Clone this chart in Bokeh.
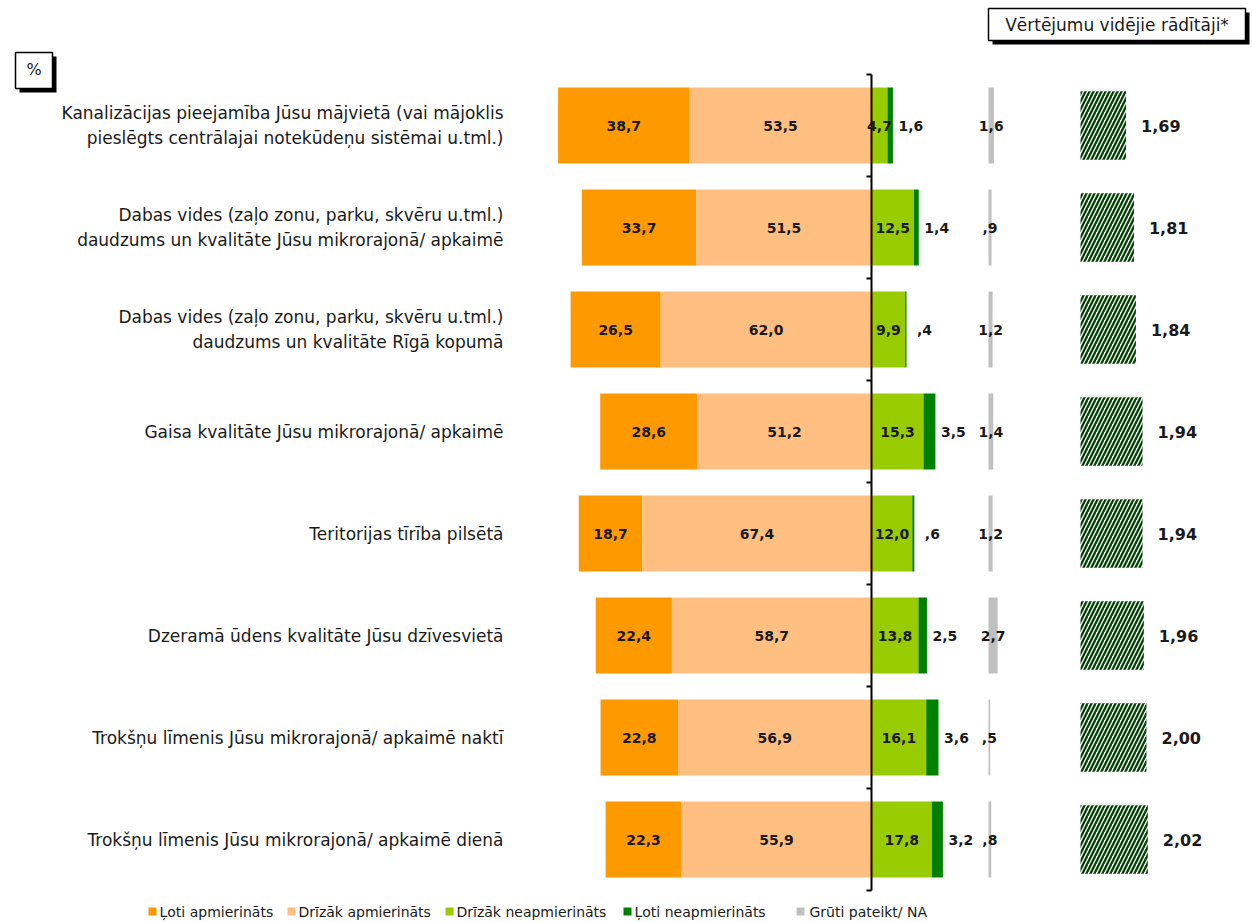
import numpy as np
from bokeh.plotting import figure
from bokeh.models import Range1d, ColumnDataSource
from bokeh.core.properties import value
from bokeh.embed import file_html
from bokeh.resources import INLINE

# ---------------- data ----------------
categories = [
    "Kanalizācijas pieejamība Jūsu mājvietā (vai mājoklis\npieslēgts centrālajai notekūdeņu sistēmai u.tml.)",
    "Dabas vides (zaļo zonu, parku, skvēru u.tml.)\ndaudzums un kvalitāte Jūsu mikrorajonā/ apkaimē",
    "Dabas vides (zaļo zonu, parku, skvēru u.tml.)\ndaudzums un kvalitāte Rīgā kopumā",
    "Gaisa kvalitāte Jūsu mikrorajonā/ apkaimē",
    "Teritorijas tīrība pilsētā",
    "Dzeramā ūdens kvalitāte Jūsu dzīvesvietā",
    "Trokšņu līmenis Jūsu mikrorajonā/ apkaimē naktī",
    "Trokšņu līmenis Jūsu mikrorajonā/ apkaimē dienā",
]
very_satisfied = [38.7, 33.7, 26.5, 28.6, 18.7, 22.4, 22.8, 22.3]
rather_satisfied = [53.5, 51.5, 62.0, 51.2, 67.4, 58.7, 56.9, 55.9]
rather_dissatisfied = [4.7, 12.5, 9.9, 15.3, 12.0, 13.8, 16.1, 17.8]
very_dissatisfied = [1.6, 1.4, 0.4, 3.5, 0.6, 2.5, 3.6, 3.2]
hard_to_say = [1.6, 0.9, 1.2, 1.4, 1.2, 2.7, 0.5, 0.8]
mean_scores = [1.69, 1.81, 1.84, 1.94, 1.94, 1.96, 2.00, 2.02]
legend_labels = ["Ļoti apmierināts", "Drīzāk apmierināts", "Drīzāk neapmierināts",
                 "Ļoti neapmierināts", "Grūti pateikt/ NA"]
header_text = "Vērtējumu vidējie rādītāji*"
unit_text = "%"

# ---------------- styles / layout ----------------
C_VS, C_RS, C_RD, C_VD, C_NA = "#FF9900", "#FFBF80", "#99CC00", "#008000", "#C0C0C0"
HATCH = "#004000"
TXT = "#1a1a1a"
FONT = value("DejaVu Sans")

W, H = 1252, 922
PX = 3.40            # pixels per percent
AXIS_X = 871         # canvas x of 0 %
ROW0, STEP = 125, 102
NA_X0 = 988
MEAN_X0, MEAN_PX = 1080, 66
BAR_H = 0.745
MEAN_H = 0.67


def fmt(v, d=1):
    s = f"{v:.{d}f}".replace(".", ",")
    if s.startswith("0,"):
        s = s[1:]
    return s


n = len(categories)
y = np.arange(n)
vs = np.array(very_satisfied)
rs = np.array(rather_satisfied)
rd = np.array(rather_dissatisfied)
vd = np.array(very_dissatisfied)
na = np.array(hard_to_say)
ms = np.array(mean_scores)

p = figure(width=W, height=H,
           x_range=Range1d(-AXIS_X / PX, (W - AXIS_X) / PX),
           y_range=Range1d((H - ROW0) / STEP, -ROW0 / STEP),
           output_backend="svg", toolbar_location=None,
           x_axis_location=None, y_axis_location=None,
           min_border=0, min_border_left=0, min_border_right=0,
           min_border_top=0, min_border_bottom=0)
p.grid.visible = False
p.outline_line_color = None
p.extra_x_ranges = {
    "na": Range1d(-NA_X0 / PX, (W - NA_X0) / PX),
    "mean": Range1d(1 - MEAN_X0 / MEAN_PX, 1 + (W - MEAN_X0) / MEAN_PX),
    "px": Range1d(0, W),
}
p.extra_y_ranges = {"py": Range1d(H, 0)}

src = ColumnDataSource(dict(
    y=y,
    vs_l=-(vs + rs), vs_r=-rs, vs_c=-(rs + vs / 2), vs_t=[fmt(v) for v in vs],
    rs_l=-rs, rs_r=np.zeros(n), rs_c=-rs / 2, rs_t=[fmt(v) for v in rs],
    rd_l=np.zeros(n), rd_r=rd, rd_c=rd / 2, rd_t=[fmt(v) for v in rd],
    vd_l=rd, vd_r=rd + vd, vd_t=[fmt(v) for v in vd],
    na_r=na, na_c=na / 2, na_t=[fmt(v) for v in na],
    ms=ms, ms_t=[fmt(v, 2) for v in ms],
    cat=categories,
))

# stacked bars
for l, r, c in [("vs_l", "vs_r", C_VS), ("rs_l", "rs_r", C_RS),
                ("rd_l", "rd_r", C_RD), ("vd_l", "vd_r", C_VD)]:
    p.hbar(y="y", left=l, right=r, height=BAR_H, source=src,
           fill_color=c, line_color=None)

# NA bars
p.hbar(y="y", left=0, right="na_r", height=BAR_H, source=src,
       x_range_name="na", fill_color=C_NA, line_color=None)

# mean bars (hatched)
p.hbar(y="y", left=1, right="ms", height=MEAN_H, source=src,
       x_range_name="mean", fill_color="white", line_color=None,
       hatch_pattern="/", hatch_color=HATCH, hatch_scale=8, hatch_weight=2.3)

# central axis
p.segment(x0=0, y0=-0.5, x1=0, y1=n - 0.5, line_color="black", line_width=2)
p.ray(x=np.zeros(n + 1), y=np.arange(n + 1) - 0.5, length=5, angle=np.pi,
      length_units="screen", line_color="black", line_width=2)

# value labels
lab = dict(source=src, text_font=FONT, text_font_size="14px", text_font_style="bold",
           text_color=TXT, text_baseline="middle")
p.text(x="vs_c", y="y", text="vs_t", text_align="center", **lab)
p.text(x="rs_c", y="y", text="rs_t", text_align="center", **lab)
p.text(x="rd_c", y="y", text="rd_t", text_align="center", **lab)
p.text(x="vd_r", y="y", text="vd_t", text_align="center", x_offset=18, **lab)
p.text(x="na_c", y="y", text="na_t", text_align="center", x_range_name="na", **lab)
p.text(x="ms", y="y", text="ms_t", text_align="left", x_offset=15, x_range_name="mean",
       source=src, text_font=FONT, text_font_size="16px", text_font_style="bold",
       text_color=TXT, text_baseline="middle")

# category labels
p.text(x=503, y="y", text="cat", source=src, x_range_name="px",
       text_align="right", text_baseline="middle", text_font=FONT,
       text_font_size="17px", text_line_height=1.25, text_color=TXT)

# header box with shadow
p.quad(left=992, right=1249, top=12, bottom=44, x_range_name="px", y_range_name="py",
       fill_color="black", line_color=None)
p.quad(left=988, right=1245, top=8, bottom=40, x_range_name="px", y_range_name="py",
       fill_color="white", line_color="black", line_width=1.5)
p.text(x=[1116.5], y=[24], text=[header_text], x_range_name="px", y_range_name="py",
       text_align="center", text_baseline="middle", text_font=FONT,
       text_font_size="17px", text_color=TXT)

# % box with shadow
p.quad(left=19, right=56, top=56, bottom=92, x_range_name="px", y_range_name="py",
       fill_color="black", line_color=None)
p.quad(left=15, right=52, top=52, bottom=88, x_range_name="px", y_range_name="py",
       fill_color="white", line_color="black", line_width=1.5)
p.text(x=[33.5], y=[69], text=[unit_text], x_range_name="px", y_range_name="py",
       text_align="center", text_baseline="middle", text_font=FONT,
       text_font_size="16px", text_color=TXT)

# legend
legend_colors = [C_VS, C_RS, C_RD, C_VD, C_NA]
sq_x = [152, 291, 449, 627, 800]
tx_x = [159, 298, 456, 634, 809]
LEG_Y = 911
p.rect(x=sq_x, y=[LEG_Y] * 5, width=8, height=8, x_range_name="px", y_range_name="py",
       fill_color=legend_colors, line_color=None)
p.text(x=tx_x, y=[LEG_Y] * 5, text=legend_labels, x_range_name="px", y_range_name="py",
       text_align="left", text_baseline="middle", text_font=FONT,
       text_font_size="14px", text_color=TXT)

open("out.html", "w").write(file_html(p, INLINE))
